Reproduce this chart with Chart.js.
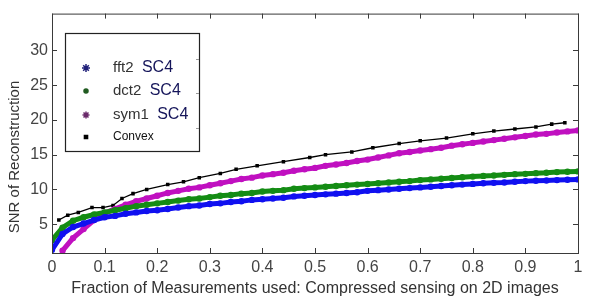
<!DOCTYPE html>
<html><head><meta charset="utf-8">
<script src="https://cdn.jsdelivr.net/npm/chart.js@4/dist/chart.umd.min.js"></script>
<style>html,body{margin:0;padding:0;background:#fff}canvas{display:block}</style>
</head><body>
<canvas id="c" width="609" height="308"></canvas>
<script>
// ---- data ----
const xDense = [0,0.02,0.04,0.06,0.08,0.10,0.12,0.14,0.16,0.18,0.20,0.22,0.24,0.26,0.28,0.30,0.32,0.34,0.36,0.38,0.40,0.42,0.44,0.46,0.48,0.50,0.52,0.54,0.56,0.58,0.60,0.62,0.64,0.66,0.68,0.70,0.72,0.74,0.76,0.78,0.80,0.82,0.84,0.86,0.88,0.90,0.92,0.94,0.96,0.98,1.0];
const fft2 = [1.3,3.6,4.6,5.1,5.6,6.0,6.2,6.5,6.7,6.9,7.0,7.2,7.4,7.6,7.7,7.9,8.0,8.2,8.3,8.5,8.6,8.7,8.8,9.0,9.1,9.2,9.3,9.4,9.5,9.6,9.8,9.9,10.0,10.1,10.2,10.3,10.4,10.5,10.6,10.7,10.8,10.9,10.95,11.0,11.1,11.2,11.25,11.3,11.35,11.4,11.45];
const dct2 = [2.7,4.5,5.5,6.0,6.4,6.7,7.0,7.3,7.6,7.8,8.0,8.2,8.4,8.6,8.7,8.9,9.1,9.2,9.4,9.5,9.7,9.8,9.9,10.1,10.2,10.3,10.4,10.5,10.6,10.7,10.8,10.9,11.0,11.1,11.2,11.35,11.45,11.55,11.65,11.75,11.85,11.95,12.0,12.1,12.2,12.25,12.35,12.4,12.5,12.55,12.6];
const sym1 = [null,1.2,3.0,4.3,5.6,6.6,7.2,7.8,8.3,8.7,9.1,9.5,9.8,10.1,10.3,10.6,10.9,11.2,11.5,11.7,12.0,12.2,12.4,12.7,12.9,13.1,13.4,13.6,13.8,14.1,14.3,14.6,14.9,15.2,15.4,15.6,15.8,16.0,16.3,16.5,16.7,16.9,17.1,17.3,17.5,17.7,17.9,18.0,18.2,18.35,18.5];
const xConvex = [0.013,0.03,0.05,0.076,0.097,0.116,0.133,0.154,0.18,0.22,0.25,0.28,0.32,0.35,0.39,0.44,0.49,0.52,0.57,0.61,0.66,0.70,0.75,0.80,0.84,0.88,0.92,0.95,0.975];
const convex = [5.6,6.3,6.7,7.4,7.4,7.7,8.7,9.4,10.0,10.7,11.1,11.7,12.3,12.9,13.4,14.0,14.6,15.0,15.4,16.0,16.6,17.0,17.4,18.0,18.4,18.7,19.0,19.4,19.6];
const seriesNames = ['fft2','dct2','sym1','Convex'];
const seriesTags = ['SC4','SC4','SC4',''];
const xTicks = [0,0.1,0.2,0.3,0.4,0.5,0.6,0.7,0.8,0.9,1];
const yTicks = [5,10,15,20,25,30];
const xTitle = 'Fraction of Measurements used: Compressed sensing on 2D images';
const yTitle = 'SNR of Reconstruction';

const colors = ['#1010f0','#148c14','#c010c0','#000000'];
const legendMarkColors = ['#20207a','#1f5a1f','#6a2a6a','#000000'];
const pts = (xs, ys) => xs.map((x,i)=>({x, y: ys[i]}));
const FONT = '"Liberation Sans", Arial, sans-serif';

const axisColor = '#3a3a3a';
const framePlugin = {
  id:'frame',
  afterDatasetsDraw(chart){
    const {ctx, chartArea:a, scales:{x,y}} = chart;
    ctx.save();
    ctx.strokeStyle = axisColor; ctx.lineWidth = 1;
    ctx.strokeRect(a.left+0.5, a.top+0.5, a.right-a.left, a.bottom-a.top);
    const tl = 5;
    ctx.beginPath();
    xTicks.forEach(v=>{ const px = Math.round(x.getPixelForValue(v))+0.5;
      ctx.moveTo(px,a.bottom); ctx.lineTo(px,a.bottom-tl);
      ctx.moveTo(px,a.top); ctx.lineTo(px,a.top+tl); });
    yTicks.forEach(v=>{ const py = Math.round(y.getPixelForValue(v))+0.5;
      ctx.moveTo(a.left,py); ctx.lineTo(a.left+tl,py);
      ctx.moveTo(a.right,py); ctx.lineTo(a.right-tl,py); });
    ctx.stroke();
    // y title (placed as in reference, below centre)
    ctx.save();
    ctx.translate(15, 157); ctx.rotate(-Math.PI/2);
    ctx.font = '15px ' + FONT; ctx.fillStyle = '#333';
    ctx.textAlign = 'center'; ctx.textBaseline = 'middle';
    ctx.fillText(yTitle, 0, 0);
    ctx.restore();
    // legend
    const bx=65, by=33, bw=134, bh=118;
    ctx.fillStyle='#fff'; ctx.fillRect(bx,by,bw,bh);
    ctx.strokeStyle='#222'; ctx.lineWidth=1.2; ctx.strokeRect(bx+0.5,by+0.5,bw,bh);
    ctx.strokeStyle='#999'; ctx.lineWidth=1;
    ctx.beginPath();
    [59,93,128].forEach(t=>{ ctx.moveTo(bx+bw-3,t+0.5); ctx.lineTo(bx+bw,t+0.5); });
    ctx.stroke();
    const rows=[68,91,115,137];
    const styles=['star','circle','star','rect'];
    const radii=[4,2,3.5,2.2];
    seriesNames.forEach((n,i)=>{
      const yy=rows[i];
      ctx.fillStyle=legendMarkColors[i]; ctx.strokeStyle=legendMarkColors[i]; ctx.lineWidth=1.5;
      Chart.helpers.drawPoint(ctx,{pointStyle:styles[i],radius:radii[i],borderWidth:1.5,rotation:0},86,yy);
      ctx.textBaseline='middle'; ctx.textAlign='left';
      if(i<3){
        ctx.font='15px ' + FONT; ctx.fillStyle='#333';
        ctx.fillText(n,113,yy);
        const w=ctx.measureText(n+'  ').width;
        ctx.font='16px ' + FONT; ctx.fillStyle='#15155a';
        ctx.fillText(seriesTags[i],113+w,yy);
      } else {
        ctx.font='12px ' + FONT; ctx.fillStyle='#111';
        ctx.fillText(n,113,yy);
      }
    });
    ctx.restore();
  }
};

const dense = (label, data, color) => ({
  label, data, borderColor: color, backgroundColor: color,
  showLine: true, borderWidth: 5, pointRadius: 3.2, pointStyle:'circle',
  pointBorderWidth: 0, spanGaps: true
});

new Chart(document.getElementById('c'), {
  type:'scatter',
  data:{ datasets:[
    dense(seriesNames[0], pts(xDense, fft2), colors[0]),
    dense(seriesNames[1], pts(xDense, dct2), colors[1]),
    dense(seriesNames[2], pts(xDense, sym1), colors[2]),
    { label: seriesNames[3], data: pts(xConvex, convex), borderColor:'#000', backgroundColor:'#000',
      showLine:true, borderWidth:1.3, pointStyle:'rect', pointRadius:2.5, pointBorderWidth:0 }
  ]},
  options:{
    responsive:false, animation:false, devicePixelRatio:1,
    layout:{padding:{left:0,top:12,right:31,bottom:0}},
    plugins:{legend:{display:false}, tooltip:{enabled:false}},
    scales:{
      x:{ type:'linear', min:0, max:1,
        afterBuildTicks(s){ s.ticks = xTicks.map(v=>({value:v})); },
        afterFit(s){ s.height = 55; },
        grid:{display:false, drawTicks:false}, border:{display:false},
        ticks:{ padding:5, color:'#444', font:{size:16, family:FONT},
          callback:v=>String(v) },
        title:{ display:true, text:xTitle, color:'#333', font:{size:16, family:FONT}, padding:{top:0,bottom:10} }
      },
      y:{ type:'linear', min:0.86, max:35.3,
        afterBuildTicks(s){ s.ticks = yTicks.map(v=>({value:v})); },
        afterFit(s){ s.width = 52; },
        grid:{display:false, drawTicks:false}, border:{display:false},
        ticks:{ padding:4, color:'#444', font:{size:16, family:FONT} },
        title:{ display:false }
      }
    }
  },
  plugins:[framePlugin]
});
</script>
</body></html>
